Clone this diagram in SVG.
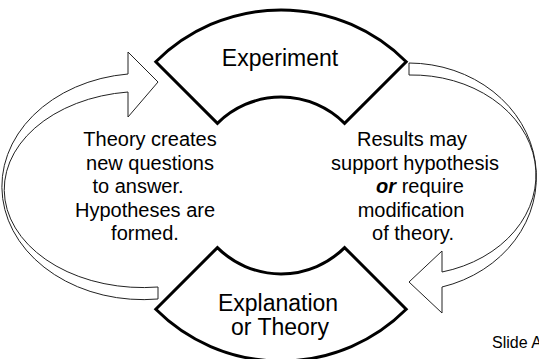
<svg xmlns="http://www.w3.org/2000/svg" width="539" height="359" viewBox="0 0 539 359">
<style>
.shape{fill:#fff;stroke:#000;stroke-width:3;stroke-linejoin:miter}
.arrow{fill:#fff;stroke:#222;stroke-width:1}
.t{font-family:"Liberation Sans",Arial,sans-serif;fill:#000;text-anchor:middle}
.big{font-size:23px}
.mid{font-size:20px}
.small{font-size:16px;text-anchor:start}
</style>
<rect width="539" height="359" fill="#fff"/>
<g id="connectors">
<path class="arrow" d="M158,287 L158,299 A141,113 0 0 1 128,74 L128,52 L158,82 L128,117 L128,92 A138,97.5 0 0 0 158,287 Z"/>
<path class="arrow" d="M409,63 A128,114 0 0 1 442,287 L442,313 L409,282 L442,251 L442,272 A124,100 0 0 0 409,75 Z"/>
</g>
<g id="experiment">
<path class="shape" d="M155.8,61.8 A177,177 0 0 1 406.2,61.8 L344.6,123.4 A90,90 0 0 0 217.4,123.4 Z"/>
<text class="t big" x="280" y="66">Experiment</text>
</g>
<g id="theory">
<path class="shape" d="M217.4,247.6 A90,90 0 0 0 344.6,247.6 L406.2,309.2 A177,177 0 0 1 155.8,309.2 Z"/>
<text class="t big" x="278" y="311">Explanation</text>
<text class="t big" x="280" y="335">or Theory</text>
</g>
<g id="left-text">
<text class="t mid" x="150" y="146">Theory creates</text>
<text class="t mid" x="150" y="169.5">new questions</text>
<text class="t mid" x="138" y="193">to answer.</text>
<text class="t mid" x="145" y="216.5">Hypotheses are</text>
<text class="t mid" x="145" y="240">formed.</text>
</g>
<g id="right-text">
<text class="t mid" x="412" y="146">Results may</text>
<text class="t mid" x="415" y="169.5">support hypothesis</text>
<text class="t mid" x="420" y="193"><tspan font-weight="bold" font-style="italic">or</tspan> require</text>
<text class="t mid" x="411" y="216.5">modification</text>
<text class="t mid" x="413" y="240">of theory.</text>
</g>
<g id="slide-label">
<text class="t small" x="492" y="348">Slide A</text>
</g>
</svg>
